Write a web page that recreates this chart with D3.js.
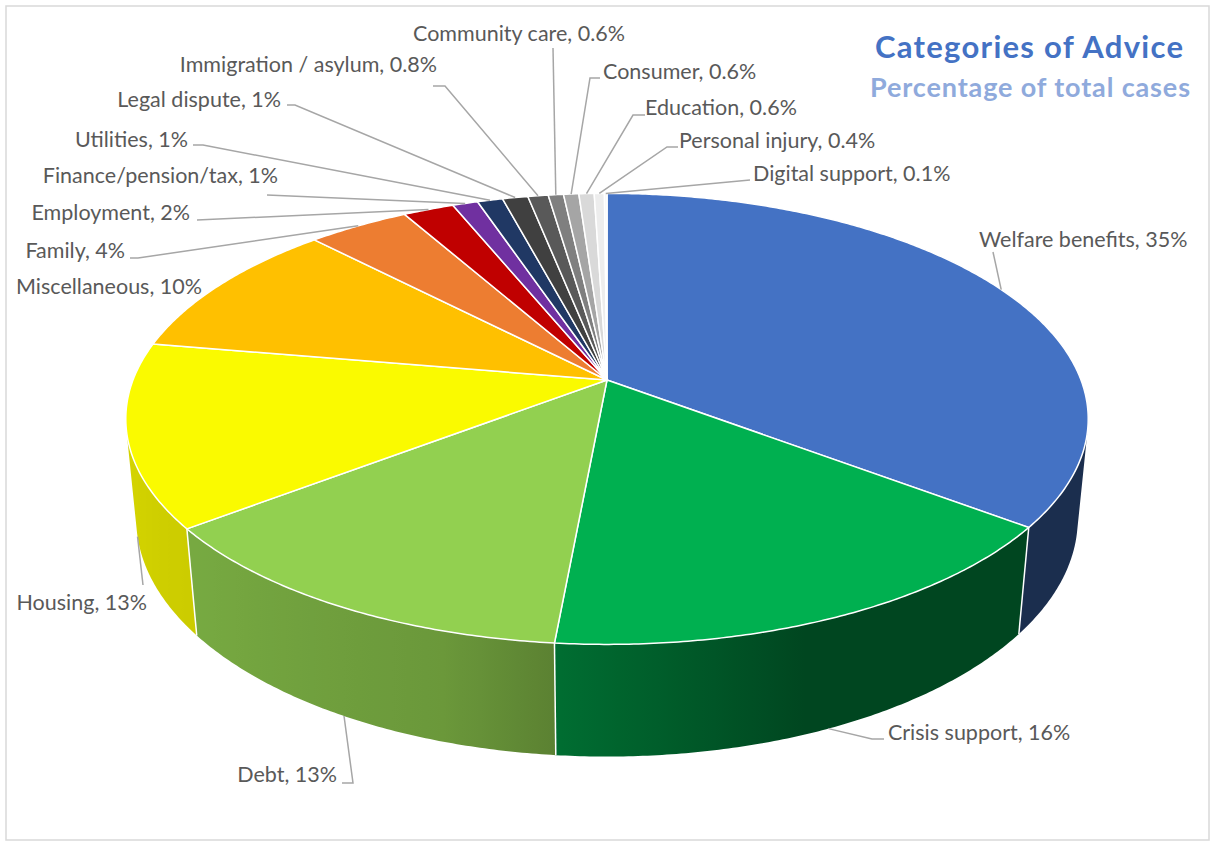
<!DOCTYPE html>
<html>
<head>
<meta charset="utf-8">
<script src="https://cdn.jsdelivr.net/npm/d3@7"></script>
<style>
  html, body { margin: 0; padding: 0; background: #ffffff; }
  svg { display: block; }
  text { font-family: Lato, "Open Sans", "Noto Sans", sans-serif; }
</style>
</head>
<body>
<svg id="chart" width="1212" height="842"></svg>
<script>
// ---- data -------------------------------------------------------------
const categories = [
  "Welfare benefits", "Crisis support", "Debt", "Housing", "Miscellaneous",
  "Family", "Employment", "Finance/pension/tax", "Utilities", "Legal dispute",
  "Immigration / asylum", "Community care", "Consumer", "Education",
  "Personal injury", "Digital support"
];
const percentages = [35, 16, 13, 13, 10, 4, 2, 1, 1, 1, 0.8, 0.6, 0.6, 0.6, 0.4, 0.1];

const titleText = "Categories of Advice";
const subtitleText = "Percentage of total cases";

// ---- styles -----------------------------------------------------------
const sliceColors = [
  "#4472C4", "#00B050", "#92D050", "#FAFA00", "#FFC000",
  "#ED7D31", "#C00000", "#7030A0", "#203864", "#404040",
  "#595959", "#7F7F7F", "#A5A5A5", "#D9D9D9", "#EDEDED", "#F7F7F7"
];

// label placement: anchor point of the text and the leader's bend points
const labelLayout = [
  { x: 979, y: 239, anchor: "start", leader: [[993, 252]] },
  { x: 888, y: 732, anchor: "start", leader: [[884, 739], [872, 739]] },
  { x: 337, y: 774, anchor: "end",   leader: [[342, 783], [353, 783]] },
  { x: 147, y: 602, anchor: "end",   leader: [[143, 585]] },
  { x: 202, y: 286, anchor: "end",   leader: null },
  { x: 125, y: 250, anchor: "end",   leader: [[130, 258], [138, 258]] },
  { x: 190, y: 212, anchor: "end",   leader: [[197, 220]] },
  { x: 278, y: 175, anchor: "end",   leader: [[267, 195]] },
  { x: 188, y: 139, anchor: "end",   leader: [[193, 145], [203, 145]] },
  { x: 281, y: 99,  anchor: "end",   leader: [[287, 105], [295, 105]] },
  { x: 437, y: 64,  anchor: "end",   leader: [[433, 86], [445, 86]] },
  { x: 413, y: 33,  anchor: "start", leader: [[553, 48]] },
  { x: 603, y: 71,  anchor: "start", leader: [[600, 78], [590, 78]] },
  { x: 645, y: 107, anchor: "start", leader: [[645, 115], [633, 115]] },
  { x: 679, y: 140, anchor: "start", leader: [[678, 147], [667, 147]] },
  { x: 753, y: 173, anchor: "start", leader: [[750, 180]] }
];

// ---- 3D projection of the pie disc ------------------------------------
const cx = 607, cy = 380;        // screen position of the disc centre
const K = 474;                   // pixels per radius at centre depth
const D = 5.144;                 // camera distance (in radii)
const elev = Math.asin(0.4616);  // viewing elevation
const depth = 0.24;              // thickness of the pie (in radii)
const sinE = Math.sin(elev), cosE = Math.cos(elev);

// angle t (radians, clockwise from the back) at height Y -> screen point
function project(t, Y) {
  const X = Math.sin(t), Z = -Math.cos(t);
  const d = Z * cosE + Y * sinE;
  const u = Y * cosE - Z * sinE;
  const s = K * D / (D - d);
  return [cx + X * s, cy - u * s];
}

// the outer wall faces the camera only between these angles
const wallMin = Math.acos(-1 / (D * cosE));
const wallMax = 2 * Math.PI - wallMin;

const deg = Math.PI / 180;
const shade = d3.scaleLinear()
  .domain([90, 159, 185, 197, 230, 270])
  .range([0.40, 0.40, 0.62, 0.73, 0.81, 0.86])
  .clamp(true);

function shaded(color, t) {
  const c = d3.rgb(color), f = shade(t / deg);
  return d3.rgb(c.r * f, c.g * f, c.b * f).formatHex();
}

const pie = d3.pie().sort(null).value(d => d).startAngle(0).endAngle(2 * Math.PI);
const arcs = pie(percentages);

const svg = d3.select("#chart");
const defs = svg.append("defs");

// chart frame
svg.append("rect")
  .attr("x", 6).attr("y", 6).attr("width", 1203).attr("height", 834)
  .attr("fill", "#ffffff").attr("stroke", "#D9D9D9").attr("stroke-width", 1.5);

const line = d3.line();

// ---- outer walls (shaded with a horizontal gradient) ------------------
const walls = svg.append("g");
arcs.forEach((a, i) => {
  const a0 = Math.max(a.startAngle, wallMin), a1 = Math.min(a.endAngle, wallMax);
  if (a1 <= a0) return;
  const n = Math.max(2, Math.ceil((a1 - a0) / (0.5 * deg)));
  const ts = d3.range(n + 1).map(k => a0 + (a1 - a0) * k / n);
  const topPts = ts.map(t => project(t, 0));
  const botPts = ts.map(t => project(t, -depth)).reverse();

  const xs = ts.map(t => project(t, -depth)[0]);
  const x0 = xs[0], x1 = xs[xs.length - 1];
  const grad = defs.append("linearGradient")
    .attr("id", "wall-" + i)
    .attr("gradientUnits", "userSpaceOnUse")
    .attr("x1", x0).attr("y1", 0).attr("x2", x1).attr("y2", 0);
  const step = Math.max(1, Math.floor(ts.length / 24));
  ts.forEach((t, k) => {
    if (k % step !== 0 && k !== ts.length - 1) return;
    grad.append("stop")
      .attr("offset", (xs[k] - x0) / (x1 - x0))
      .attr("stop-color", shaded(sliceColors[i], t));
  });

  walls.append("path")
    .attr("d", line(topPts.concat(botPts)) + "Z")
    .attr("fill", `url(#wall-${i})`);
});
// white seams between slices on the wall
arcs.forEach(a => {
  const t = a.endAngle;
  if (t > wallMin && t < wallMax) {
    walls.append("path")
      .attr("d", line([project(t, 0), project(t, -depth)]))
      .attr("stroke", "#ffffff").attr("stroke-width", 1.5).attr("fill", "none");
  }
});

// ---- top faces --------------------------------------------------------
const tops = svg.append("g");
arcs.forEach((a, i) => {
  const pts = [[cx, cy]];
  const n = Math.max(2, Math.ceil((a.endAngle - a.startAngle) / (0.5 * deg)));
  for (let k = 0; k <= n; k++) {
    pts.push(project(a.startAngle + (a.endAngle - a.startAngle) * k / n, 0));
  }
  tops.append("path")
    .attr("d", line(pts) + "Z")
    .attr("fill", sliceColors[i])
    .attr("stroke", "#ffffff").attr("stroke-width", 1.5)
    .attr("stroke-linejoin", "round");
});

// ---- leader lines and labels -----------------------------------------
const labels = svg.append("g");
arcs.forEach((a, i) => {
  const lay = labelLayout[i];
  const mid = (a.startAngle + a.endAngle) / 2;
  const end = (mid > wallMin && mid < wallMax) ? project(mid, -depth) : project(mid, 0);
  if (lay.leader) {
    labels.append("path")
      .attr("d", line(lay.leader.concat([end])))
      .attr("fill", "none").attr("stroke", "#A6A6A6").attr("stroke-width", 1.5);
  }
  labels.append("text")
    .attr("x", lay.x).attr("y", lay.y)
    .attr("dy", "0.35em")
    .attr("text-anchor", lay.anchor)
    .attr("font-size", 21.5)
    .attr("fill", "#595959")
    .text(`${categories[i]}, ${percentages[i]}%`);
});

// ---- title ------------------------------------------------------------
svg.append("text")
  .attr("x", 1029).attr("y", 58)
  .attr("text-anchor", "middle")
  .attr("font-size", 31).attr("font-weight", 700)
  .attr("textLength", 308).attr("lengthAdjust", "spacing")
  .attr("fill", "#4472C4")
  .text(titleText);
svg.append("text")
  .attr("x", 1030).attr("y", 97)
  .attr("text-anchor", "middle")
  .attr("font-size", 27).attr("font-weight", 700)
  .attr("textLength", 320).attr("lengthAdjust", "spacing")
  .attr("fill", "#8FAADC")
  .text(subtitleText);
</script>
</body>
</html>
